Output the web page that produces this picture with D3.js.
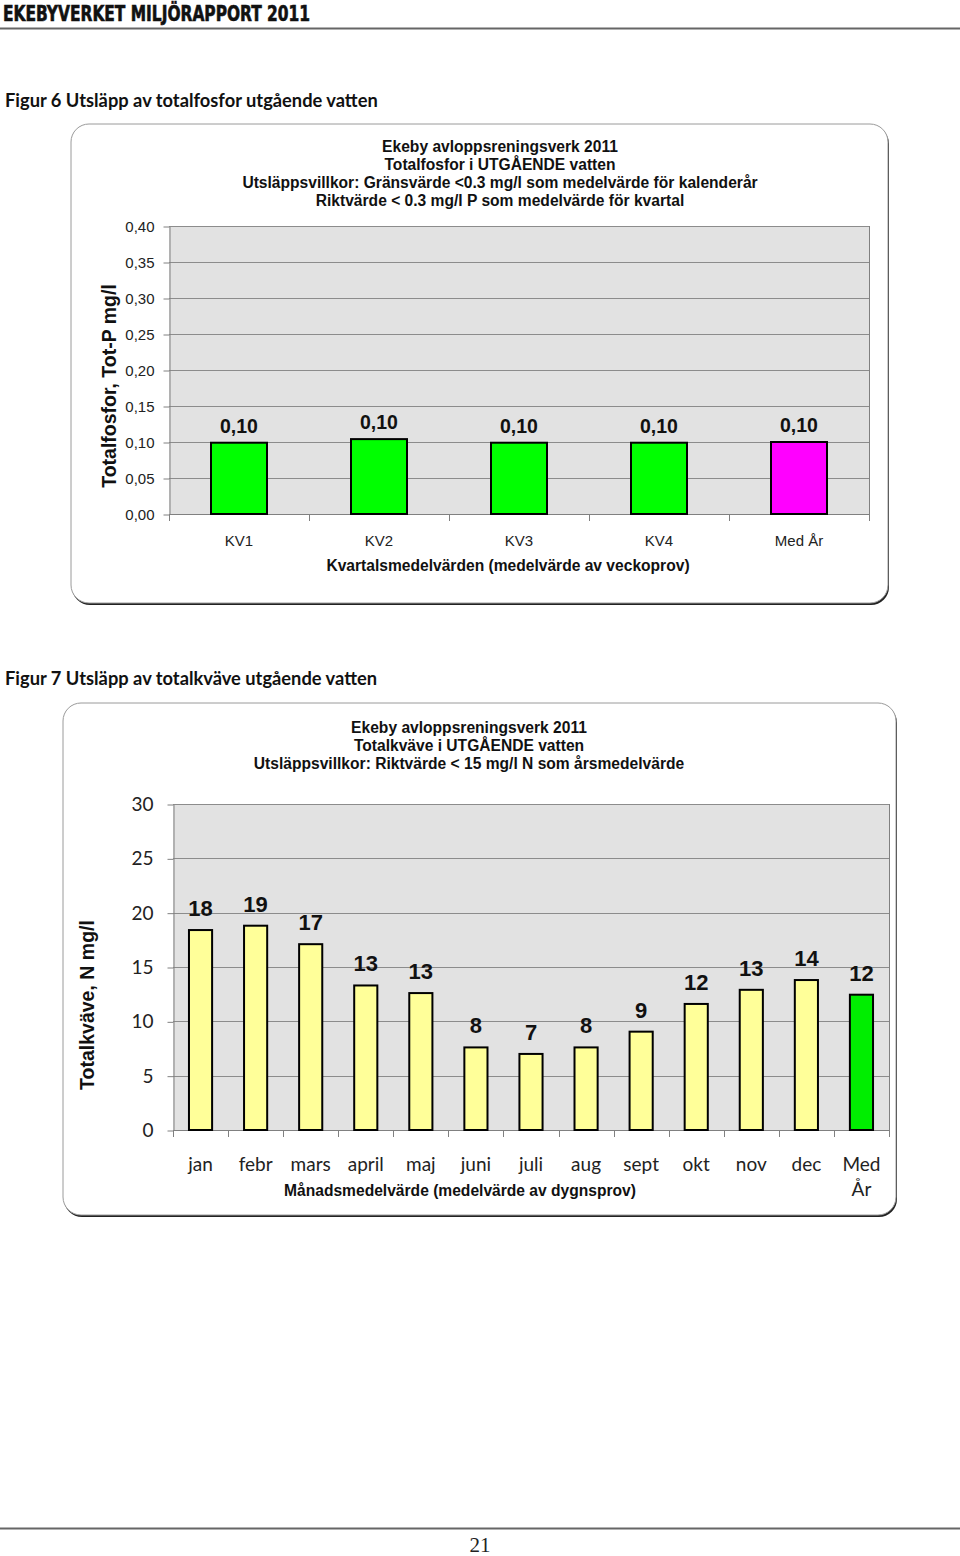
<!DOCTYPE html>
<html><head><meta charset="utf-8">
<script src="https://cdnjs.cloudflare.com/ajax/libs/d3/7.8.5/d3.min.js"></script>
<style>body{margin:0;background:#fff}svg{display:block}</style>
</head><body>
<script>
// ---------- DATA ----------
const header = "EKEBYVERKET MILJÖRAPPORT 2011";
const pageNumber = "21";

const caption1 = "Figur 6 Utsläpp av totalfosfor utgående vatten";
const title1 = ["Ekeby avloppsreningsverk 2011", "Totalfosfor i UTGÅENDE vatten",
  "Utsläppsvillkor: Gränsvärde <0.3 mg/l som medelvärde för kalenderår",
  "Riktvärde < 0.3 mg/l P som medelvärde för kvartal"];
const cats1 = ["KV1", "KV2", "KV3", "KV4", "Med År"];
const vals1 = [0.099, 0.104, 0.099, 0.099, 0.100];
const yTicks1 = [0, 0.05, 0.10, 0.15, 0.20, 0.25, 0.30, 0.35, 0.40];
const yTitle1 = "Totalfosfor, Tot-P mg/l";
const xTitle1 = "Kvartalsmedelvärden (medelvärde av veckoprov)";

const caption2 = "Figur 7 Utsläpp av totalkväve utgående vatten";
const title2 = ["Ekeby avloppsreningsverk 2011", "Totalkväve i UTGÅENDE vatten",
  "Utsläppsvillkor: Riktvärde < 15 mg/l N som årsmedelvärde"];
const cats2 = ["jan", "febr", "mars", "april", "maj", "juni", "juli", "aug", "sept", "okt", "nov", "dec", "Med År"];
const vals2 = [18.4, 18.8, 17.1, 13.3, 12.6, 7.6, 7.0, 7.6, 9.05, 11.6, 12.9, 13.8, 12.45];
const yTicks2 = [0, 5, 10, 15, 20, 25, 30];
const yTitle2 = "Totalkväve, N mg/l";
const xTitle2 = "Månadsmedelvärde (medelvärde av dygnsprov)";

// ---------- DRAW ----------
const W = 960, H = 1556;
const svg = d3.select("body").append("svg").attr("width", W).attr("height", H);
const ARIAL = "'Liberation Sans', Arial, sans-serif";
const CAL = "Lato, 'Open Sans', sans-serif";

// header
svg.append("text").attr("x", 3).attr("y", 21).text(header)
  .attr("font-family", "'DejaVu Sans Condensed','DejaVu Sans',sans-serif").attr("font-weight", "bold")
  .attr("font-size", 21).attr("textLength", 307).attr("lengthAdjust", "spacingAndGlyphs")
  .attr("fill", "#111").attr("stroke", "#111").attr("stroke-width", 0.6);
svg.append("line").attr("x1", 0).attr("x2", W).attr("y1", 28.5).attr("y2", 28.5).attr("stroke", "#666").attr("stroke-width", 2);

// footer
svg.append("line").attr("x1", 0).attr("x2", W).attr("y1", 1528.5).attr("y2", 1528.5).attr("stroke", "#666").attr("stroke-width", 2);
svg.append("text").attr("x", 480).attr("y", 1552).attr("text-anchor", "middle").text(pageNumber)
  .attr("font-family", "'Liberation Serif','DejaVu Serif',serif").attr("font-size", 21).attr("fill", "#222");

function frame(x, y, w, h) {
  svg.append("rect").attr("x", x + 1).attr("y", y + 2).attr("width", w).attr("height", h)
    .attr("rx", 18).attr("fill", "#222");
  svg.append("rect").attr("x", x).attr("y", y).attr("width", w).attr("height", h)
    .attr("rx", 18).attr("fill", "#fff").attr("stroke", "#9a9a9a").attr("stroke-width", 1);
}

function chart(cfg) {
  svg.append("text").attr("x", 5).attr("y", cfg.capY).text(cfg.caption)
    .attr("font-family", CAL).attr("font-weight", "bold").attr("font-size", 18.3).attr("fill", "#111");
  frame(cfg.frame[0], cfg.frame[1], cfg.frame[2], cfg.frame[3]);

  cfg.title.forEach((t, i) => {
    svg.append("text").attr("x", cfg.titleX).attr("y", cfg.titleY + i * 18).attr("text-anchor", "middle")
      .text(t).attr("font-family", ARIAL).attr("font-weight", "bold").attr("font-size", 15.6).attr("fill", "#111");
  });

  const x = d3.scaleBand().domain(cfg.cats).range([cfg.x0, cfg.x1])
    .paddingInner(cfg.pad).paddingOuter(cfg.pad / 2);
  const y = d3.scaleLinear().domain([0, d3.max(cfg.yTicks)]).range([cfg.y0, cfg.y1]);

  const g = svg.append("g");
  g.append("rect").attr("x", cfg.x0).attr("y", cfg.y1).attr("width", cfg.x1 - cfg.x0).attr("height", cfg.y0 - cfg.y1)
    .attr("fill", "#e2e2e2");
  g.selectAll(".grid").data(cfg.yTicks.slice(1)).join("line")
    .attr("x1", cfg.x0).attr("x2", cfg.x1)
    .attr("y1", d => Math.round(y(d)) + 0.5).attr("y2", d => Math.round(y(d)) + 0.5)
    .attr("stroke", "#8c8c8c").attr("stroke-width", 1);
  g.append("line").attr("x1", cfg.x1 + 0.5).attr("x2", cfg.x1 + 0.5).attr("y1", cfg.y1).attr("y2", cfg.y0)
    .attr("stroke", "#808080");

  // y axis
  const ya = g.append("g").attr("transform", `translate(${cfg.x0 + 0.5},0.5)`)
    .call(d3.axisLeft(y).tickValues(cfg.yTicks).tickSize(6).tickSizeOuter(0).tickPadding(cfg.tickPad).tickFormat(cfg.fmt));
  ya.select(".domain").attr("stroke", "#808080");
  ya.selectAll(".tick line").attr("stroke", "#808080");
  ya.selectAll(".tick text").attr("font-family", cfg.yFont).attr("font-size", cfg.yFontSize).attr("fill", "#222");

  // x axis baseline + separators
  g.append("line").attr("x1", cfg.x0).attr("x2", cfg.x1).attr("y1", cfg.y0 + 0.5).attr("y2", cfg.y0 + 0.5).attr("stroke", "#808080");
  const seps = d3.range(cfg.cats.length + 1).map(i => cfg.x0 + i * x.step());
  g.selectAll(".sep").data(seps).join("line")
    .attr("x1", d => Math.round(d) + 0.5).attr("x2", d => Math.round(d) + 0.5)
    .attr("y1", cfg.y0).attr("y2", cfg.y0 + 7).attr("stroke", "#808080");

  // bars
  g.selectAll(".bar").data(cfg.vals).join("rect")
    .attr("x", (d, i) => x(cfg.cats[i])).attr("width", x.bandwidth())
    .attr("y", d => y(d)).attr("height", d => cfg.y0 - y(d))
    .attr("fill", (d, i) => cfg.colors[i]).attr("stroke", "#000").attr("stroke-width", 2);

  // labels
  g.selectAll(".lab").data(cfg.vals).join("text")
    .attr("x", (d, i) => x(cfg.cats[i]) + x.bandwidth() / 2).attr("y", d => y(d) - cfg.labOff)
    .attr("text-anchor", "middle").text(cfg.labFmt)
    .attr("font-family", ARIAL).attr("font-weight", "bold").attr("font-size", cfg.labSize).attr("fill", "#111");

  // x tick labels
  cfg.cats.forEach((c, i) => {
    const parts = cfg.split ? c.split(" ") : [c];
    parts.forEach((p, j) => {
      g.append("text").attr("x", x(c) + x.bandwidth() / 2).attr("y", cfg.xLabY + j * cfg.xLabLine)
        .attr("text-anchor", "middle").text(p)
        .attr("font-family", cfg.xFont).attr("font-size", cfg.xFontSize).attr("fill", "#222");
    });
  });

  // axis titles
  svg.append("text").attr("x", cfg.xTitleX).attr("y", cfg.xTitleY).attr("text-anchor", "middle").text(cfg.xTitle)
    .attr("font-family", ARIAL).attr("font-weight", "bold").attr("font-size", 15.6).attr("fill", "#111");
  svg.append("text").attr("transform", `translate(${cfg.yTitleX},${cfg.yTitleY}) rotate(-90)`)
    .attr("text-anchor", "middle").text(cfg.yTitle)
    .attr("font-family", ARIAL).attr("font-weight", "bold").attr("font-size", 19.5).attr("fill", "#111");
}

const comma2 = d => d3.format(".2f")(d).replace(".", ",");

chart({
  caption: caption1, capY: 107, frame: [71, 124, 817, 479],
  title: title1, titleX: 500, titleY: 152,
  cats: cats1, vals: vals1, yTicks: yTicks1,
  x0: 169, x1: 869, y0: 514, y1: 226, pad: 0.6,
  fmt: comma2, tickPad: 9, yFont: ARIAL, yFontSize: 15,
  colors: ["#00ff00", "#00ff00", "#00ff00", "#00ff00", "#ff00ff"],
  labOff: 10, labSize: 19.5, labFmt: comma2,
  xFont: ARIAL, xFontSize: 15, xLabY: 546, xLabLine: 0, split: false,
  xTitle: xTitle1, xTitleX: 508, xTitleY: 571,
  yTitle: yTitle1, yTitleX: 116, yTitleY: 386
});

chart({
  caption: caption2, capY: 685, frame: [63, 703, 833, 512],
  title: title2, titleX: 469, titleY: 733,
  cats: cats2, vals: vals2, yTicks: yTicks2,
  x0: 173, x1: 889, y0: 1130, y1: 804, pad: 0.58,
  fmt: d3.format("d"), tickPad: 14, yFont: CAL, yFontSize: 19,
  colors: cats2.map((c, i) => i === cats2.length - 1 ? "#00ee00" : "#ffff99"),
  labOff: 14, labSize: 22, labFmt: d => d3.format(".0f")(d),
  xFont: CAL, xFontSize: 19, xLabY: 1171, xLabLine: 25, split: true,
  xTitle: xTitle2, xTitleX: 460, xTitleY: 1196,
  yTitle: yTitle2, yTitleX: 94, yTitleY: 1005
});
</script>
</body></html>
